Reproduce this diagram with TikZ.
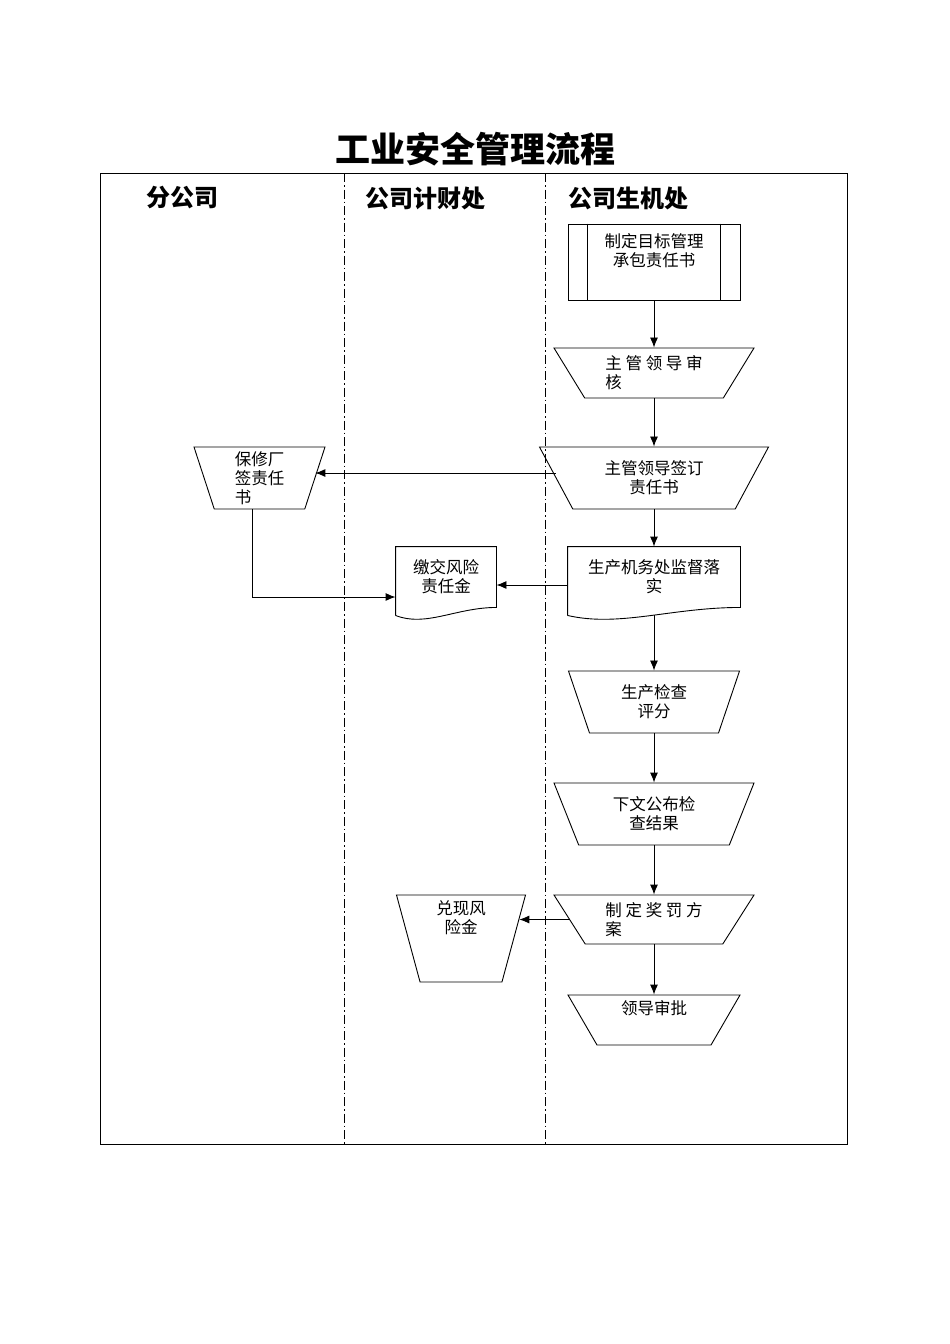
\documentclass[tikz,border=0pt]{standalone}
\usepackage{fontspec}
\setmainfont{Noto Sans CJK SC}
\usepackage{tikz}
\usetikzlibrary{shapes, arrows.meta, positioning, calc}
\tikzstyle{subproc} = [rectangle, minimum width = 172, minimum height = 76, draw =
  black, align = center, inner sep = 0]
\tikzstyle{manop} = [
  trapezium, trapezium stretches body, shape border rotate = 180,
  draw = black, align = center, inner sep = 2
]
\tikzstyle{docbox} = [rectangle, minimum height = 60, align = center, inner sep = 0]
\tikzstyle{lane} = [dash pattern = on 9pt off 3pt on 1.5pt off 3pt]
\tikzstyle{head} = [font = \fontsize{24}{28}\selectfont\bfseries]
% document outline: straight top and sides, wavy bottom
\newcommand{\docshape}[1]{%
  \draw ($(#1.south west) + (0, 8)$) -- (#1.north west) -- (#1.north east)
    -- (#1.south east)
    .. controls ($(#1.south west)!0.6!(#1.south east)$)
    and ($(#1.south west)!0.3!(#1.south east) + (0, 20)$)
    .. ($(#1.south west) + (0, 8)$);}

\begin{document}
\begin{tikzpicture}[node distance = 0, x = 1pt, y = -1pt, line width = 0.9pt,
    font = \fontsize{16.5}{19}\selectfont, >={Latex[length = 10pt, width = 8pt]}]
      \useasboundingbox (0, 0) rectangle (950, 1344);
      % frame and lanes
      \node [font = \fontsize{35}{40}\selectfont\bfseries] (title) at (475, 149) {工业安全管理流程};
      \draw (100, 173) rectangle (847, 1144);
      \draw [lane] (344, 173) -- (344, 1144);
      \draw [lane] (545, 173) -- (545, 1144);
      \node [head] (lane-a) at (182, 198) {分公司};
      \node [head] (lane-b) at (425, 198) {公司计财处};
      \node [head] (lane-c) at (628, 198) {公司生机处};
      % main column
      \node [subproc] (p1) at (654, 262) {制定目标管理\\承包责任书\\ \strut};
      \draw ([xshift = 20]p1.north west) -- ([xshift = 20]p1.south west);
      \draw ([xshift = -20]p1.north east) -- ([xshift = -20]p1.south east);
      \node [manop, below of = p1, yshift = -111, minimum width = 200,
        minimum height = 50, trapezium angle = 51.3, align = left] (p2) {主 管 领 导 审\\核};
      \node [manop, below of = p2, yshift = -105, minimum width = 229,
        minimum height = 62, trapezium angle = 49] (p3) {主管领导签订\\责任书};
      \node [docbox, below of = p3, yshift = -99, minimum width = 172] (p6) {生产机务处监督落\\实};
      \docshape{p6}
      \node [manop, below of = p6, yshift = -125, minimum width = 171,
        minimum height = 62, trapezium angle = 61.3] (p7) {生产检查\\评分};
      \node [manop, below of = p7, yshift = -112, minimum width = 200,
        minimum height = 62, trapezium angle = 57.2] (p8) {下文公布检\\查结果};
      \node [manop, below of = p8, yshift = -105.5, minimum width = 200,
        minimum height = 49, trapezium angle = 50.8, align = left] (p9) {制 定 奖 罚 方\\案};
      \node [manop, below of = p9, yshift = -100.5, minimum width = 172,
        minimum height = 50, trapezium angle = 55.8] (p11) {领导审批\\ \strut};
      % side nodes
      \node [manop, left of = p3, xshift = -394.5, minimum width = 131,
        minimum height = 62, trapezium angle = 70.5, align = left] (b4) {保修厂\\签责任\\书};
      \node [docbox, left of = p6, xshift = -208, minimum width = 100] (d5) {缴交风险\\责任金};
      \docshape{d5}
      \node [manop, left of = p9, xshift = -193, yshift = -19, minimum width = 129,
        minimum height = 87, trapezium angle = 73.7] (b10) {兑现风\\险金\\ \strut\\ \strut};

      \draw [->] (p1.south) -- (p2.90);
      \draw [->] (p2.270) -- (p3.90);
      \draw [->] (p3.270) -- (p6.north);
      \draw [->] ([yshift = -8]p6.south) -- (p7.90);
      \draw [->] (p7.270) -- (p8.90);
      \draw [->] (p8.270) -- (p9.90);
      \draw [->] (p9.270) -- (p11.90);
      \draw [->] ([yshift = 5]p3.180) -- ([yshift = 5]p3.180 -| b4.0);
      \draw [->] ([yshift = -8]p6.west) -- ([yshift = -8]d5.east);
      \draw [->] ([xshift = -7]b4.270) |- ([yshift = -20]d5.west);
      \draw [->] (p9.180) -- (p9.180 -| b10.18);
    \end{tikzpicture}
\end{document}
